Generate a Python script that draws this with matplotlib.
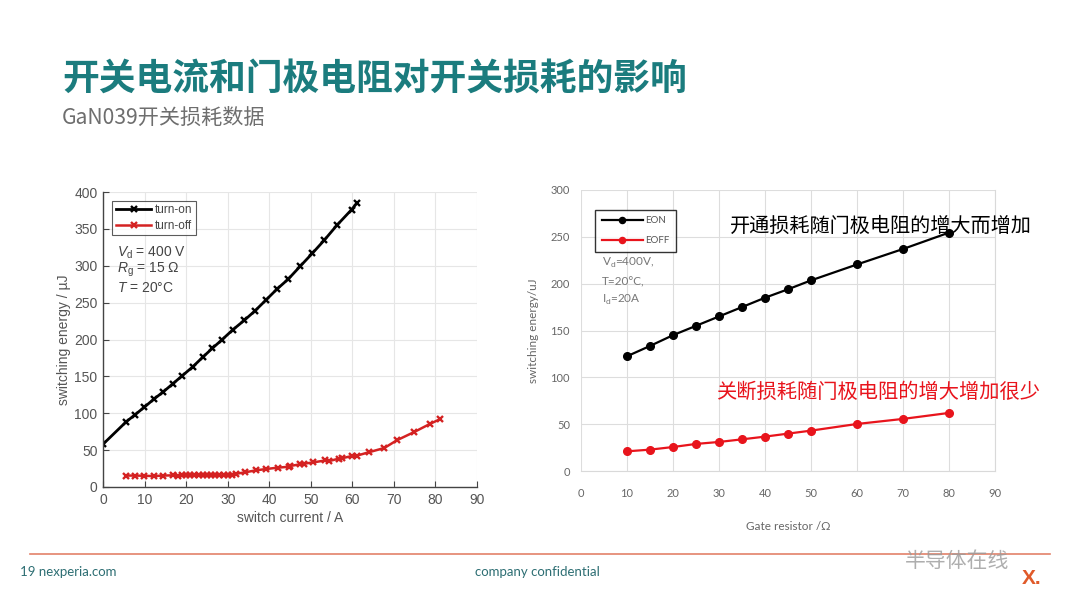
import matplotlib
matplotlib.use("Agg")
import matplotlib.pyplot as plt
from matplotlib.lines import Line2D

# ---------------- data ----------------
on_current = [0, 5.5, 7.7, 9.9, 12.2, 14.5, 16.8, 19.1, 21.6, 24.0, 26.3, 28.7, 31.2, 34.0,
              36.6, 39.3, 41.8, 44.6, 47.4, 50.4, 53.3, 56.3, 59.8, 61.1]
on_energy = [58, 88, 98, 108, 119, 129, 140, 151, 163, 176, 188, 200, 213, 226,
             239, 254, 268, 282, 299, 317, 335, 355, 376, 385]

off_current = [5.5, 7.7, 9.9, 12.2, 14.5, 16.8, 18.0, 19.0, 20.0, 21.0, 22.0, 23.0, 24.0, 25.0,
               26.0, 27.0, 28.0, 29.0, 30.0, 31.0, 32.1, 34.2, 36.8, 39.3, 42.0, 44.8, 45.0,
               47.4, 48.4, 50.6, 53.5, 54.3, 56.7, 57.5, 59.9, 61.1, 63.9, 67.7, 70.7, 74.9,
               78.8, 81.0]
off_energy = [15.5, 15.5, 15.2, 14.8, 15.5, 15.8, 15.5, 15.8, 16.0, 16.0, 16.2, 16.2, 16.0, 16.0,
              16.0, 16.0, 15.8, 15.8, 16.2, 16.8, 18.0, 19.9, 22.6, 24.4, 26.2, 27.5, 28.5,
              30.7, 31.6, 33.4, 36.0, 35.0, 38.4, 39.0, 42.0, 42.5, 47.0, 52.9, 63.3, 74.6,
              85.9, 91.7]

rg = [10, 15, 20, 25, 30, 35, 40, 45, 50, 60, 70, 80]
eon = [122.5, 133.5, 145, 155, 165, 175, 185, 194, 203.5, 220.5, 237, 254.5]
eoff = [21, 22.8, 25.6, 28.9, 31, 33.8, 36.7, 39.9, 43.1, 50.2, 55.6, 62]

left_xticks = list(range(0, 91, 10))
left_yticks = list(range(0, 401, 50))
right_xticks = list(range(0, 91, 10))
right_yticks = list(range(0, 301, 50))

title_text = "开关电流和门极电阻对开关损耗的影响"
subtitle_text = "GaN039开关损耗数据"
note_on = "开通损耗随门极电阻的增大而增加"
note_off = "关断损耗随门极电阻的增大增加很少"

# ---------------- figure ----------------
W, H = 1080, 608
fig = plt.figure(figsize=(W / 100, H / 100), dpi=100)
fig.patch.set_facecolor("white")

plt.rcParams['mathtext.fontset'] = 'custom'
plt.rcParams['mathtext.rm'] = 'Liberation Sans'
plt.rcParams['mathtext.it'] = 'Liberation Sans:italic'

CJK = ['Noto Sans CJK SC', 'DejaVu Sans']


def px_axes(l, t, r, b):
    return fig.add_axes([l / W, (H - b) / H, (r - l) / W, (b - t) / H])


# title & subtitle
fig.text(62 / W, 1 - 80 / H, title_text, family=CJK, fontsize=26.5, fontweight='bold',
         color='#1b7c7e', va='center', ha='left')
fig.text(62 / W, 1 - 118 / H, subtitle_text, family=CJK, fontsize=15.2,
         color='#6e6e6e', va='center', ha='left')

# ---------------- left chart ----------------
ax1 = px_axes(103, 192, 477, 487)
ax1.plot(on_current, on_energy, color='black', lw=2.0, marker='x', ms=5, mew=1.7,
         label='turn-on')
ax1.plot(off_current, off_energy, color='#d42222', lw=1.8, marker='x', ms=5, mew=1.7,
         label='turn-off')
ax1.set_xlim(0, 90)
ax1.set_ylim(0, 400)
ax1.set_xticks(left_xticks)
ax1.set_yticks(left_yticks)
ax1.grid(True, color='#e6e6e6', lw=0.8)
ax1.set_axisbelow(True)
for s in ['top', 'right']:
    ax1.spines[s].set_visible(False)
for s in ['left', 'bottom']:
    ax1.spines[s].set_color('#444444')
    ax1.spines[s].set_linewidth(1.0)
ax1.tick_params(direction='in', length=4, colors='#444444', labelsize=10,
                labelcolor='#555555', pad=4)
for lab in ax1.get_xticklabels() + ax1.get_yticklabels():
    lab.set_family('Liberation Sans')
ax1.set_xlabel('switch current / A', family='Liberation Sans', fontsize=10,
               color='#555555', labelpad=3)
ax1.set_ylabel('switching energy / µJ', family='Liberation Sans', fontsize=10,
               color='#555555', labelpad=2)
leg1 = ax1.legend(loc='upper left', bbox_to_anchor=(0.025, 0.97),
                  prop={'family': 'Liberation Sans', 'size': 8.5}, frameon=True,
                  fancybox=False, edgecolor='#333333', handlelength=3.0,
                  borderpad=0.3, labelspacing=0.3, handletextpad=0.3,
                  borderaxespad=0)
leg1.get_frame().set_linewidth(0.8)
for t in leg1.get_texts():
    t.set_color('#444444')
ax1.text(0.037, 0.795, r"$V_\mathrm{d}$ = 400 V", transform=ax1.transAxes,
         fontsize=10, color='#444444', family='Liberation Sans', va='center')
ax1.text(0.037, 0.735, r"$R_\mathrm{g}$ = 15 Ω", transform=ax1.transAxes,
         fontsize=10, color='#444444', family='Liberation Sans', va='center')
ax1.text(0.037, 0.675, r"$T$ = 20°C", transform=ax1.transAxes,
         fontsize=10, color='#444444', family='Liberation Sans', va='center')

# ---------------- right chart ----------------
ax2 = px_axes(581, 190, 995, 471)
ax2.plot(rg, eon, color='black', lw=1.6, marker='o', ms=5.5, label='EON')
ax2.plot(rg, eoff, color='#e8141c', lw=1.6, marker='o', ms=5.5, label='EOFF')
ax2.set_xlim(0, 90)
ax2.set_ylim(0, 300)
ax2.set_xticks(right_xticks)
ax2.set_yticks(right_yticks)
ax2.grid(True, color='#dddddd', lw=0.8)
ax2.set_axisbelow(True)
for s in ax2.spines.values():
    s.set_color('#d9d9d9')
    s.set_linewidth(0.8)
ax2.spines['left'].set_visible(False)
ax2.spines['top'].set_visible(False)
ax2.tick_params(length=0, labelsize=8, labelcolor='#666666', pad=12)
for lab in ax2.get_xticklabels() + ax2.get_yticklabels():
    lab.set_family('Lato')
ax2.tick_params(axis='y', pad=8)
ax2.set_xlabel('Gate resistor /Ω', family='Lato', fontsize=8.5, color='#666666',
               labelpad=16)
ax2.set_ylabel('switching energy/uJ', family='Lato', fontsize=8.5, color='#666666',
               labelpad=8)
leg2 = ax2.legend(loc='upper left', bbox_to_anchor=(0.034, 0.93),
                  prop={'family': 'Lato', 'size': 7}, frameon=True, fancybox=False,
                  edgecolor='black', handlelength=4.2, borderpad=0.7,
                  labelspacing=1.1, handletextpad=0.2, borderaxespad=0,
                  markerscale=0.8)
leg2.get_frame().set_linewidth(1.0)
for t in leg2.get_texts():
    t.set_color('#555555')
ax2.text(0.05, 0.74, r"V$_\mathrm{d}$=400V,", transform=ax2.transAxes, fontsize=8.5,
         color='#777777', family='Lato', va='center')
ax2.text(0.05, 0.672, "T=20°C,", transform=ax2.transAxes, fontsize=8.5,
         color='#777777', family='Lato', va='center')
ax2.text(0.05, 0.61, r"I$_\mathrm{d}$=20A", transform=ax2.transAxes, fontsize=8.5,
         color='#777777', family='Lato', va='center')

fig.text(730 / W, 1 - 226 / H, note_on, family=CJK, fontsize=14.5, color='black',
         va='center', ha='left')
fig.text(716 / W, 1 - 392 / H, note_off, family=CJK, fontsize=14.6, color='#e8141c',
         va='center', ha='left')

# ---------------- footer ----------------
fig.add_artist(Line2D([30 / W, 1050 / W], [1 - 554 / H, 1 - 554 / H], color='#e3826a',
                      lw=1.2))
fig.text(20 / W, 1 - 572 / H, '19 nexperia.com', family='Lato', fontsize=9.5,
         color='#2d6e73', va='center', ha='left')
fig.text(475 / W, 1 - 572 / H, 'company confidential', family='Lato', fontsize=9.5,
         color='#2d6e73', va='center', ha='left')
fig.text(905 / W, 1 - 561 / H, '半导体在线', family=CJK, fontsize=15, color='#9a9a9a',
         va='center', ha='left', alpha=0.8)
fig.text(1022 / W, 1 - 578 / H, 'X.', family='Liberation Sans', fontsize=15,
         fontweight='bold', color='#e05a2a', va='center', ha='left')

fig.savefig('out.png', dpi=100, facecolor='white')
